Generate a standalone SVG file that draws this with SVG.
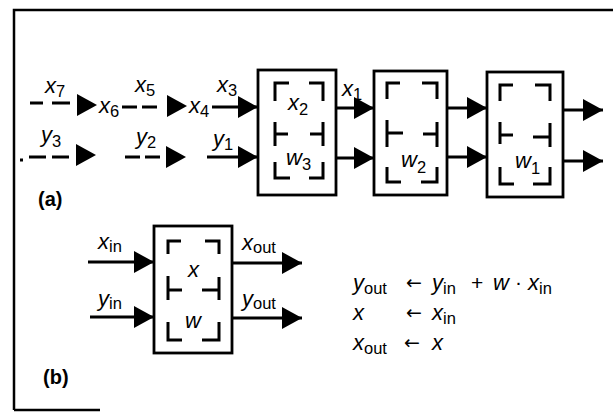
<svg xmlns="http://www.w3.org/2000/svg" width="613" height="412" viewBox="0 0 613 412">
<style>
.frame{fill:none;stroke:#000;stroke-width:2.5}
.box{fill:#fff;stroke:#000;stroke-width:2.8}
.br{fill:none;stroke:#000;stroke-width:3}
.ln{fill:none;stroke:#000;stroke-width:2.8}
.ds{fill:none;stroke:#000;stroke-width:2.8}
.v{font-family:"Liberation Sans",Arial,sans-serif;font-style:italic;font-size:22px;fill:#000}
.s{font-style:normal;font-size:16.5px}
.op{font-family:"Liberation Sans",Arial,sans-serif;font-size:21px;fill:#000}
.ar{font-family:"DejaVu Sans",sans-serif;font-size:19px;fill:#000}
.lab{font-family:"Liberation Sans",Arial,sans-serif;font-weight:bold;font-size:20px;fill:#000}
</style>
<defs>
<marker id="arr" markerUnits="userSpaceOnUse" markerWidth="20" markerHeight="22" refX="20" refY="11" orient="auto">
<path d="M0,0 L20,11 L0,22 z" fill="#000"/>
</marker>
<path id="ah" d="M-20,-11 L0,0 L-20,11 z" fill="#000"/>
</defs>
<rect width="613" height="412" fill="#fff"/>
<path class="frame" d="M14,410 V10 H613 M14,410 H100"/>

<g id="connectors">
<path class="ds" d="M30,103 H43 M52,103 H70"/>
<use href="#ah" x="97" y="105"/>
<path class="ds" d="M122,107 H137 M142,107 H157"/>
<use href="#ah" x="187" y="106"/>
<line class="ln" x1="212" y1="107" x2="258" y2="107" marker-end="url(#arr)"/>
<line class="ln" x1="336" y1="108" x2="374" y2="108" marker-end="url(#arr)"/>
<line class="ln" x1="447" y1="108" x2="487" y2="108" marker-end="url(#arr)"/>
<line class="ln" x1="563" y1="110" x2="603" y2="110" marker-end="url(#arr)"/>
<path class="ds" d="M20,160 H23 M29,157 H46 M52,157 H69"/>
<use href="#ah" x="96" y="155"/>
<path class="ds" d="M125,157 H140 M145,157 H160"/>
<use href="#ah" x="186" y="157"/>
<line class="ln" x1="207" y1="157" x2="258" y2="157" marker-end="url(#arr)"/>
<line class="ln" x1="336" y1="158" x2="374" y2="158" marker-end="url(#arr)"/>
<line class="ln" x1="447" y1="157" x2="487" y2="157" marker-end="url(#arr)"/>
<line class="ln" x1="563" y1="161" x2="603" y2="161" marker-end="url(#arr)"/>
<line class="ln" x1="88" y1="262" x2="154" y2="262" marker-end="url(#arr)"/>
<line class="ln" x1="90" y1="317" x2="154" y2="317" marker-end="url(#arr)"/>
<line class="ln" x1="232" y1="263" x2="302" y2="263" marker-end="url(#arr)"/>
<line class="ln" x1="232" y1="318" x2="302" y2="318" marker-end="url(#arr)"/>
<text class="v" x="45" y="93">x<tspan class="s" dy="4">7</tspan></text>
<text class="v" x="99" y="113">x<tspan class="s" dy="4">6</tspan></text>
<text class="v" x="135" y="92">x<tspan class="s" dy="4">5</tspan></text>
<text class="v" x="189" y="113">x<tspan class="s" dy="4">4</tspan></text>
<text class="v" x="217" y="92">x<tspan class="s" dy="4">3</tspan></text>
<text class="v" x="342" y="96">x<tspan class="s" dy="4">1</tspan></text>
<text class="v" x="41" y="142">y<tspan class="s" dy="5">3</tspan></text>
<text class="v" x="136" y="144">y<tspan class="s" dy="4">2</tspan></text>
<text class="v" x="213" y="146">y<tspan class="s" dy="4">1</tspan></text>
<text class="v" x="98" y="249">x<tspan class="s" dy="3">in</tspan></text>
<text class="v" x="98" y="306">y<tspan class="s" dy="3">in</tspan></text>
<text class="v" x="242" y="250">x<tspan class="s" dy="3">out</tspan></text>
<text class="v" x="242" y="306">y<tspan class="s" dy="3">out</tspan></text>
</g>

<g id="cell1">
<rect class="box" x="258" y="70" width="78" height="125"/>
<path class="br" d="M275,101 V83 H289 M309,83 H323 V101 M275,122 V146 M275,134 H288 M323,122 V146 M323,134 H310 M275,162 V178 H290 M309,178 H323 V162"/>
<text class="v" x="288" y="110">x<tspan class="s" dy="5">2</tspan></text>
<text class="v" x="286" y="165">w<tspan class="s" dy="5">3</tspan></text>
</g>

<g id="cell2">
<rect class="box" x="374" y="71" width="73" height="124"/>
<path class="br" d="M387,99 V83 H400 M422,83 H437 V99 M387,120 V147 M387,133 H403 M437,122 V147 M437,134 H423 M387,167 V182 H401 M421,182 H437 V167"/>
<text class="v" x="401" y="167">w<tspan class="s" dy="6">2</tspan></text>
</g>

<g id="cell3">
<rect class="box" x="487" y="72" width="76" height="125"/>
<path class="br" d="M500,101 V85 H513 M535,85 H550 V101 M500,122 V144 M500,135 H513 M550,123 V147 M550,137 H533 M500,167 V184 H514 M533,184 H550 V167"/>
<text class="v" x="515" y="168">w<tspan class="s" dy="6">1</tspan></text>
</g>

<g id="cellb">
<rect class="box" x="154" y="226" width="78" height="127"/>
<path class="br" d="M168,254 V241 H181 M205,241 H219 V254 M168,276 V300 M168,290 H182 M219,277 V300 M219,290 H202 M168,322 V340 H182 M202,340 H219 V322"/>
<text class="v" x="188" y="277">x</text>
<text class="v" x="185" y="328">w</text>
</g>

<g id="equations">
<text class="v" x="353" y="290">y<tspan class="s" dy="4">out</tspan></text>
<text class="ar" x="406" y="289">←</text>
<text class="v" x="432" y="290">y<tspan class="s" dy="4">in</tspan></text>
<text class="op" x="471" y="290">+</text>
<text class="v" x="493" y="290">w</text>
<text class="op" x="515" y="289">·</text>
<text class="v" x="528" y="290">x<tspan class="s" dy="4">in</tspan></text>
<text class="v" x="353" y="320">x</text>
<text class="ar" x="406" y="319">←</text>
<text class="v" x="432" y="320">x<tspan class="s" dy="4">in</tspan></text>
<text class="v" x="353" y="350">x<tspan class="s" dy="4">out</tspan></text>
<text class="ar" x="404" y="349">←</text>
<text class="v" x="432" y="350">x</text>
</g>

<g id="labels">
<text class="lab" x="38" y="206">(a)</text>
<text class="lab" x="43" y="384">(b)</text>
</g>
</svg>
